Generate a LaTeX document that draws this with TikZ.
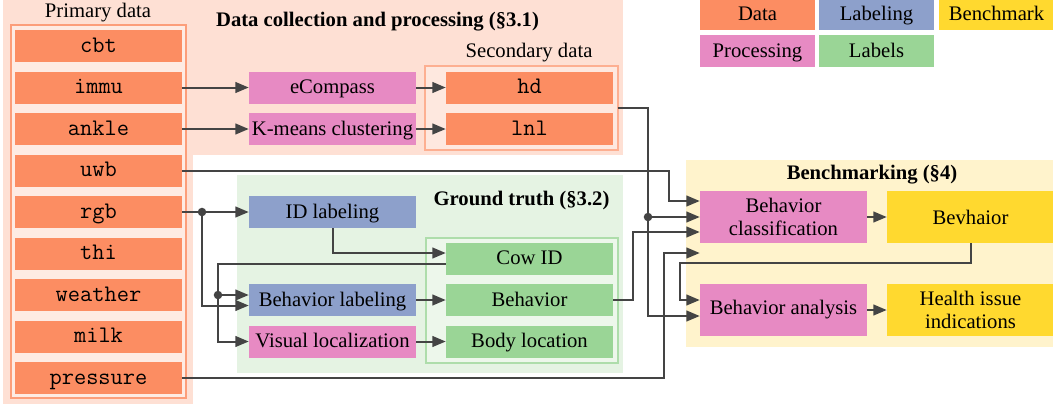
\documentclass[tikz,border=0pt]{standalone}
\usepackage{fontspec}
\setmainfont{Liberation Serif}
\usetikzlibrary{arrows.meta}
\definecolor{cdata}{HTML}{FC8D62}
\definecolor{cproc}{HTML}{E78AC3}
\definecolor{clab}{HTML}{8DA0CB}
\definecolor{clabels}{HTML}{9AD596}
\definecolor{cbench}{HTML}{FFD92F}
\definecolor{bgorange}{HTML}{FEE0D4}
\definecolor{bggreen}{HTML}{E5F3E3}
\definecolor{bgyellow}{HTML}{FFF3CC}
\definecolor{cline}{HTML}{444444}
\begin{document}
\begin{tikzpicture}[x=0.75pt,y=-0.75pt,
  txt/.style={font=\fontsize{15.5}{17}\selectfont, inner sep=0pt},
  ttl/.style={font=\bfseries\fontsize{15.5}{17}\selectfont, inner sep=0pt},
  box/.style={rectangle, inner sep=0pt, minimum width=125.25pt, minimum height=24pt, align=center, font=\fontsize{15.5}{17}\selectfont},
  one/.style={text height=11pt, text depth=2pt},
  databox/.style={box, one, fill=cdata, font=\ttfamily\fontsize{17.8}{19}\selectfont},
  procbox/.style={box, one, fill=cproc},
  labbox/.style={box, one, fill=clab},
  labelsbox/.style={box, one, fill=clabels},
  benchbox/.style={box, fill=cbench, minimum height=39pt},
  pbbox/.style={box, fill=cproc, minimum height=39pt},
  legbox/.style={box, one, minimum width=86.25pt},
  conn/.style={draw=cline, line width=1.5pt, -{Triangle[length=10pt,width=8pt]}},
  plain/.style={draw=cline, line width=1.5pt},
  jdot/.style={fill=cline}
]
\useasboundingbox (0,0) rectangle (1053,404);
% backgrounds
\fill[bgorange] (3,0) rectangle (193,404);
\fill[bgorange] (193,0) rectangle (623,155);
\fill[bggreen] (237,175) rectangle (623,373);
\fill[bgyellow] (686,160) rectangle (1053,347);
% frames
\draw[cdata!85!white, line width=1.5pt, fill=white!35!bgorange] (10.5,25) rectangle (186,397.5);
\draw[cdata!70!white, line width=1.5pt, fill=white!25!bgorange] (425,66) rectangle (617.5,149.5);
\draw[clabels!80!white, line width=1.5pt, fill=white!30!bggreen] (426,237.5) rectangle (618,362.5);
\node[minimum width=0pt, inner sep=0pt] (sec) at (617.5,107.5) {};
% titles
\node[txt] (tprim) at (98,13) {Primary data};
\node[ttl] (tdc) at (377.5,22) {Data collection and processing (§3.1)};
\node[txt] (tsec) at (529,53) {Secondary data};
\node[ttl] (tgt) at (521.5,201) {Ground truth (§3.2)};
\node[ttl] (tbm) at (872,175) {Benchmarking (§4)};
% primary data
\node[databox] (cbt) at (98.5,46) {cbt};
\node[databox] (immu) at (98.5,87.5) {immu};
\node[databox] (ankle) at (98.5,129) {ankle};
\node[databox] (uwb) at (98.5,170.5) {uwb};
\node[databox] (rgb) at (98.5,212) {rgb};
\node[databox] (thi) at (98.5,253.5) {thi};
\node[databox] (weather) at (98.5,295) {weather};
\node[databox] (milk) at (98.5,336.5) {milk};
\node[databox] (pressure) at (98.5,378) {pressure};
% processing
\node[procbox] (ecomp) at (332.5,87.5) {eCompass};
\node[procbox] (kmeans) at (332.5,129) {K-means clustering};
\node[databox] (hd) at (529.5,87.5) {hd};
\node[databox] (lnl) at (529.5,129) {lnl};
% ground truth
\node[labbox] (idl) at (332.5,212) {ID labeling};
\node[labbox] (bl) at (332.5,300) {Behavior labeling};
\node[procbox] (vl) at (332.5,341.5) {Visual localization};
\node[labelsbox] (cow) at (529.5,258.5) {Cow ID};
\node[labelsbox] (beh) at (529.5,300) {Behavior};
\node[labelsbox] (body) at (529.5,341.5) {Body location};
% benchmarking
\node[pbbox] (bc) at (783.5,217) {Behavior\\classification};
\node[benchbox] (bev) at (970.5,217) {Bevhaior};
\node[pbbox] (ba) at (783.5,310) {Behavior analysis};
\node[benchbox] (hi) at (970.5,310) {Health issue\\indications};
% legend
\node[legbox, fill=cdata] (lg1) at (757.5,14) {Data};
\node[legbox, fill=clab] (lg2) at (876.5,14) {Labeling};
\node[legbox, fill=cbench] (lg3) at (996.5,14) {Benchmark};
\node[legbox, fill=cproc] (lg4) at (757.5,51) {Processing};
\node[legbox, fill=clabels] (lg5) at (876.5,51) {Labels};
% connectors
\coordinate (j1) at (202,212);
\coordinate (j2) at (218,295);
\coordinate (j3) at (648,217);
\draw[conn] (immu.east) -- (ecomp.west);
\draw[conn] (ankle.east) -- (kmeans.west);
\draw[conn] (ecomp.east) -- (hd.west);
\draw[conn] (kmeans.east) -- (lnl.west);
\draw[conn] (uwb.east) -| (669,201) -- (bc.west |- 0,201);
\draw[conn] (rgb.east) -- (idl.west);
\draw[conn] (j1) |- (bl.west |- 0,305.5);
\draw[conn] (idl.south) |- (cow.west |- 0,253);
\draw[plain] (cow.west |- 0,263.5) -| (j2);
\draw[conn] (j2) -- (bl.west |- 0,295);
\draw[conn] (j2) |- (vl.west);
\draw[conn] (bl.east) -- (beh.west);
\draw[conn] (vl.east) -- (body.west);
\draw[conn] (sec.center) -| (648,316) -- (ba.west |- 0,316);
\draw[conn] (j3) -- (bc.west);
\draw[conn] (beh.east) -| (633,232) -- (bc.west |- 0,232);
\draw[conn] (pressure.east) -| (664,253) -- (bc.west |- 0,253);
\draw[conn] (bev.south) |- (680,263) |- (ba.west |- 0,300);
\draw[conn] (bc.east) -- (bev.west);
\draw[conn] (ba.east) -- (hi.west);
\fill[jdot] (j1) circle (3.2pt);
\fill[jdot] (j2) circle (3.2pt);
\fill[jdot] (j3) circle (3.2pt);
\end{tikzpicture}
\end{document}
